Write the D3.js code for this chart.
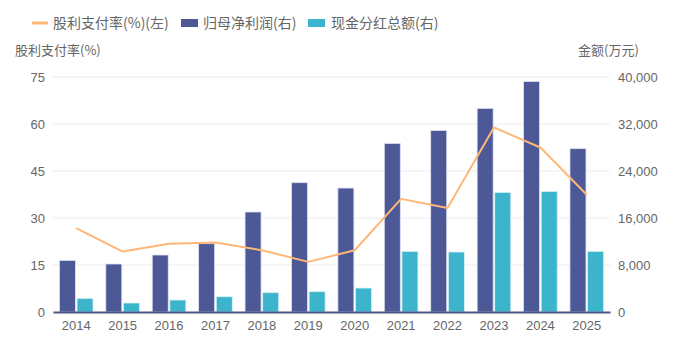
<!DOCTYPE html>
<html>
<head>
<meta charset="utf-8">
<script src="https://cdn.jsdelivr.net/npm/d3@7/dist/d3.min.js"></script>
<style>
  html, body { margin: 0; padding: 0; background: #fff; }
  svg { display: block; font-family: "Noto Sans CJK SC", "Noto Sans", sans-serif; }
</style>
</head>
<body>
<div id="chart"></div>
<script>
// Years on the category axis
const years = ["2014","2015","2016","2017","2018","2019","2020","2021","2022","2023","2024","2025"];
// 归母净利润 (万元, right axis)
const netProfit = [8780, 8170, 9700, 11630, 17020, 22010, 21100, 28700, 30910, 34660, 39250, 27800];
// 现金分红总额 (万元, right axis)
const dividends = [2320, 1530, 2040, 2600, 3290, 3460, 4080, 10320, 10210, 20360, 20530, 10320];
// 股利支付率 (%, left axis)
const payoutRatio = [26.8, 19.3, 21.8, 22.2, 19.7, 16.0, 19.7, 36.1, 33.2, 58.9, 52.5, 37.4];
// Axis ticks
const leftTicks = [0, 15, 30, 45, 60, 75];
const rightTicks = [0, 8000, 16000, 24000, 32000, 40000];

const W = 691, H = 345;
const m = { left: 53, right: 81, top: 77, bottom: 33 };
const iw = W - m.left - m.right, ih = H - m.top - m.bottom;

const colors = { line: "#fdb777", profit: "#4d5897", div: "#3cb4cb", axis: "#4d5584", grid: "#ebebf4", text: "#666" };

const svg = d3.select("#chart").append("svg").attr("width", W).attr("height", H);
const g = svg.append("g").attr("transform", `translate(${m.left},${m.top})`);

const x = d3.scaleBand().domain(years).range([0, iw]).paddingInner(0).paddingOuter(0);
const yL = d3.scaleLinear().domain([0, 75]).range([ih, 0]);
const yR = d3.scaleLinear().domain([0, 40000]).range([ih, 0]);

// Grid lines
g.append("g").selectAll("line").data(leftTicks.slice(1)).join("line")
  .attr("x1", 0).attr("x2", iw)
  .attr("y1", d => yL(d)).attr("y2", d => yL(d))
  .attr("stroke", colors.grid).attr("stroke-width", 1);

// Left axis labels
const leftAxis = d3.axisLeft(yL).tickValues(leftTicks).tickSize(0).tickPadding(8);
g.append("g").call(leftAxis).call(s => {
  s.select(".domain").remove();
  s.selectAll("text").attr("fill", colors.text).attr("font-size", 13);
});

// Right axis labels
const rightAxis = d3.axisRight(yR).tickValues(rightTicks).tickSize(0).tickPadding(8).tickFormat(d3.format(","));
g.append("g").attr("transform", `translate(${iw},0)`).call(rightAxis).call(s => {
  s.select(".domain").remove();
  s.selectAll("text").attr("fill", colors.text).attr("font-size", 13);
});

// Bars
const bw = x.bandwidth() * 0.345;
const gap = x.bandwidth() * 0.035;
const groupW = bw * 2 + gap;
const off = (x.bandwidth() - groupW) / 2;

g.append("g").selectAll("rect").data(years).join("rect")
  .attr("x", d => x(d) + off)
  .attr("y", (d, i) => yR(netProfit[i]))
  .attr("width", bw)
  .attr("height", (d, i) => ih - yR(netProfit[i]))
  .attr("fill", colors.profit)
  .attr("stroke", "#dfe2f0").attr("stroke-width", 0.8);

g.append("g").selectAll("rect").data(years).join("rect")
  .attr("x", d => x(d) + off + bw + gap)
  .attr("y", (d, i) => yR(dividends[i]))
  .attr("width", bw)
  .attr("height", (d, i) => ih - yR(dividends[i]))
  .attr("fill", colors.div)
  .attr("stroke", "#d8f0f5").attr("stroke-width", 0.8);

// Payout ratio line
const line = d3.line()
  .x((d, i) => x(years[i]) + x.bandwidth() / 2)
  .y(d => yL(d));
g.append("path").datum(payoutRatio)
  .attr("d", line)
  .attr("fill", "none")
  .attr("stroke", colors.line)
  .attr("stroke-width", 2)
  .attr("stroke-linejoin", "round");

// X axis
const xAxis = d3.axisBottom(x).tickSize(0).tickPadding(9);
g.append("g").attr("transform", `translate(0,${ih})`).call(xAxis).call(s => {
  s.select(".domain").attr("stroke", colors.axis).attr("stroke-width", 2);
  s.selectAll("text").attr("fill", colors.text).attr("font-size", 13);
});

// Axis titles
svg.append("text").attr("x", 15).attr("y", 55).attr("font-size", 13).attr("fill", colors.text).text("股利支付率(%)");
svg.append("text").attr("x", 578).attr("y", 55).attr("font-size", 13).attr("fill", colors.text).text("金额(万元)");

// Legend
const lg = svg.append("g").attr("transform", "translate(0,23)");
lg.append("line").attr("x1", 32).attr("x2", 48).attr("y1", 0).attr("y2", 0)
  .attr("stroke", colors.line).attr("stroke-width", 3);
lg.append("text").attr("x", 53).attr("y", 5).attr("font-size", 14).attr("fill", colors.text).text("股利支付率(%)(左)");
lg.append("rect").attr("x", 181).attr("y", -4).attr("width", 17).attr("height", 8).attr("fill", colors.profit);
lg.append("text").attr("x", 203).attr("y", 5).attr("font-size", 14).attr("fill", colors.text).text("归母净利润(右)");
lg.append("rect").attr("x", 308).attr("y", -4).attr("width", 17).attr("height", 8).attr("fill", colors.div);
lg.append("text").attr("x", 331).attr("y", 5).attr("font-size", 14).attr("fill", colors.text).text("现金分红总额(右)");
</script>
</body>
</html>
